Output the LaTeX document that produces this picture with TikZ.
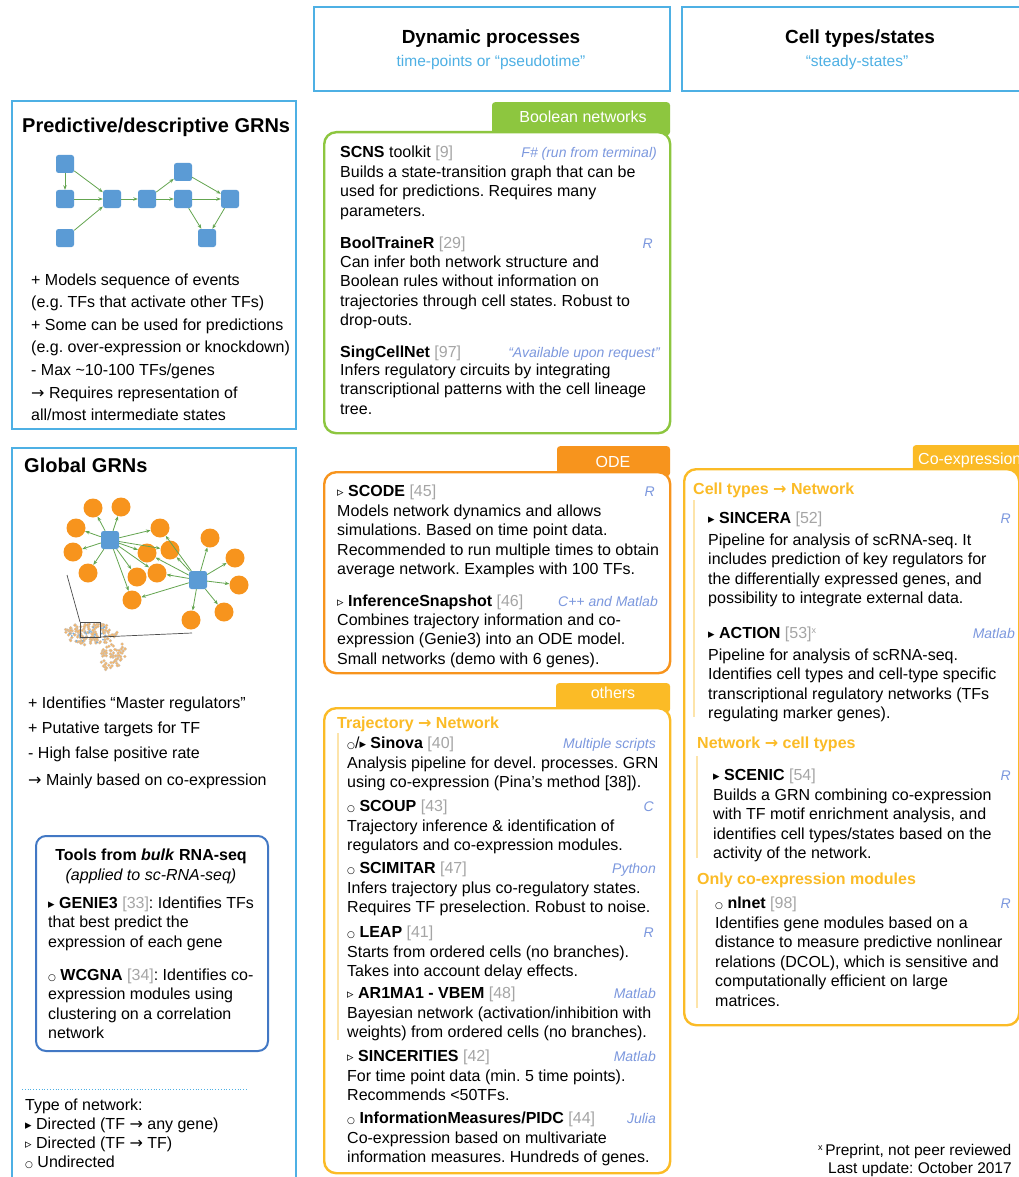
\documentclass[tikz,border=0pt]{standalone}
\usepackage{fontspec}
\setmainfont{Liberation Sans}
\newfontfamily\symf{DejaVu Sans}
\usetikzlibrary{arrows.meta}
\definecolor{skyblue}{RGB}{78,176,228}
\definecolor{toolblue}{RGB}{66,120,196}
\definecolor{boolgreen}{RGB}{141,198,63}
\definecolor{odeorange}{RGB}{247,148,29}
\definecolor{otheryellow}{RGB}{251,187,38}
\definecolor{lineyellow}{RGB}{253,228,170}
\definecolor{langblue}{RGB}{124,152,222}
\definecolor{refgray}{RGB}{165,165,165}
\definecolor{nodeblue}{RGB}{91,155,213}
\definecolor{nodeorange}{RGB}{247,148,29}
\definecolor{edgegreen}{RGB}{100,165,80}
\newcommand\bodyf{\fontsize{16}{19.5}\selectfont}
\newcommand\listf{\fontsize{16}{22.5}\selectfont}
\newcommand\rf[1]{\textcolor{refgray}{[#1]}}
\newcommand\mkfull{{\symf\fontsize{13}{13}\selectfont ▸}}
\newcommand\mkopen{{\symf\fontsize{13}{13}\selectfont ▹}}
\newcommand\mkcirc{{\symf\fontsize{9}{9}\selectfont ○}}
\newcommand\mkarr{{\symf\fontsize{16}{16}\selectfont →}}
\newcommand\mkx{\raisebox{5pt}{\fontsize{9}{9}\selectfont x}}
\frenchspacing
\begin{document}
\begin{tikzpicture}[x=1pt,y=-1pt,
  frame/.style={draw=skyblue, line width=2pt, anchor=north west, inner sep=0pt},
  hdr/.style={anchor=base west, inner sep=0pt, font=\bodyf},
  lang/.style={anchor=base east, inner sep=0pt, font=\fontsize{14}{16}\selectfont\itshape, text=langblue},
  body/.style={anchor=north west, inner sep=0pt, align=left, font=\bodyf},
  lst/.style={anchor=north west, inner sep=0pt, align=left, font=\listf},
  sect/.style={anchor=base west, inner sep=0pt, font=\bodyf\bfseries, text=otheryellow},
  tab/.style={anchor=north east, inner sep=0pt, rounded corners=3pt},
  tablabel/.style={anchor=base, inner sep=0pt, text=white, font=\bodyf},
  card/.style={anchor=north west, inner sep=0pt, fill=white, line width=2.4pt, rounded corners=12pt},
  sq/.style={fill=nodeblue, rounded corners=2.5pt, minimum size=18pt, inner sep=0pt},
  dot/.style={circle, fill=nodeorange, minimum size=19pt, inner sep=0pt},
  edge/.style={draw=edgegreen, line width=0.8pt, -{Stealth[length=4.5pt,width=3.5pt]}},
  vbar/.style={draw=lineyellow, line width=1.6pt}]
\useasboundingbox (0,0) rectangle (1019,1177);
\fill[white] (0,0) rectangle (1019,1177);
\clip (0,0) rectangle (1019,1177);

% ---------- column headers ----------
\node[frame, minimum width=356pt, minimum height=84pt] (dynbox) at (313,6) {};
\node[anchor=base, inner sep=0pt, font=\fontsize{19}{22}\selectfont\bfseries] (dyntitle) at (491,44) {Dynamic processes};
\node[anchor=base, inner sep=0pt, font=\fontsize{15.5}{18}\selectfont, text=skyblue] (dynsub) at (491,67) {time-points or ``pseudotime''};
\node[frame, minimum width=360pt, minimum height=84pt] (cellbox) at (681,6) {};
\node[anchor=base, inner sep=0pt, font=\fontsize{19}{22}\selectfont\bfseries] (celltitle) at (860,44) {Cell types/states};
\node[anchor=base, inner sep=0pt, font=\fontsize{15.5}{18}\selectfont, text=skyblue] (cellsub) at (857,67) {``steady-states''};

% ---------- predictive / descriptive GRNs ----------
\node[frame, minimum width=284pt, minimum height=328pt] (predbox) at (11,100) {};
\node[anchor=base west, inner sep=0pt, font=\fontsize{20}{24}\selectfont\bfseries] (predtitle) at (22,133) {Predictive/descriptive GRNs};
\node[sq] (p1) at (65,164) {};
\node[sq] (p2) at (65,199) {};
\node[sq] (p3) at (65,238) {};
\node[sq] (p4) at (112,199) {};
\node[sq] (p5) at (147,199) {};
\node[sq] (p6) at (183,172) {};
\node[sq] (p7) at (183,199) {};
\node[sq] (p8) at (230,199) {};
\node[sq] (p9) at (207,238) {};
\draw[edge] (p1) -- (p2);
\draw[edge] (p1) -- (p4);
\draw[edge] (p2) -- (p4);
\draw[edge] (p3) -- (p4);
\draw[edge] (p4) -- (p5);
\draw[edge] (p5) -- (p6);
\draw[edge] (p5) -- (p7);
\draw[edge] (p6) -- (p8);
\draw[edge] (p7) -- (p8);
\draw[edge] (p7) -- (p9);
\draw[edge] (p8) -- (p9);
\node[lst] (pred1) at (31,269.25) {\strut + Models sequence of events\\(e.g. TFs that activate other TFs)};
\node[lst] (pred2) at (31,314.25) {\strut + Some can be used for predictions\\(e.g. over-expression or knockdown)};
\node[lst] (pred3) at (31,359.25) {\strut - Max \textasciitilde10-100 TFs/genes};
\node[lst] (pred4) at (31,382.25) {\strut \mkarr\ Requires representation of\\all/most intermediate states};

% ---------- global GRNs ----------
\node[frame, minimum width=284pt, minimum height=760pt] (globbox) at (11,447) {};
\node[anchor=base west, inner sep=0pt, font=\fontsize{20}{24}\selectfont\bfseries] (globtitle) at (24,472) {Global GRNs};
% small overview network
\begin{scope}
\pgfmathsetseed{11}
\foreach \i in {1,...,140}{
  \pgfmathsetmacro\ang{360*rnd}
  \pgfmathsetmacro\rr{sqrt(rnd)}
  \pgfmathsetmacro\px{90+28*\rr*cos(\ang)}
  \pgfmathsetmacro\py{634+11*\rr*sin(\ang)}
  \filldraw[fill=nodeorange!70, draw=gray!45, line width=0.2pt] (\px,\py) circle[radius=1.5pt];
}
\foreach \i in {1,...,70}{
  \pgfmathsetmacro\ang{360*rnd}
  \pgfmathsetmacro\rr{sqrt(rnd)}
  \pgfmathsetmacro\px{112+13*\rr*cos(\ang)-4*\rr*sin(\ang)}
  \pgfmathsetmacro\py{656+14*\rr*sin(\ang)}
  \filldraw[fill=nodeorange!70, draw=gray!45, line width=0.2pt] (\px,\py) circle[radius=1.5pt];
}
\foreach \i in {1,...,25}{
  \pgfmathsetmacro\ang{360*rnd}
  \pgfmathsetmacro\rr{sqrt(rnd)}
  \pgfmathsetmacro\px{90+24*\rr*cos(\ang)}
  \pgfmathsetmacro\py{634+9*\rr*sin(\ang)}
  \fill[nodeblue!80] (\px,\py) circle[radius=1pt];
}
\end{scope}
\draw[black!70, line width=0.7pt] (80,622) rectangle (100,637);
\draw[black!70, line width=0.7pt] (67,575) -- (80,622);
\draw[black!70, line width=0.7pt] (100,637) -- (192,633);
% enlarged part of the network
\node[sq] (g1) at (110,540) {};
\node[sq] (g2) at (198,580) {};
\node[dot] (c1) at (93,508) {};
\node[dot] (c2) at (121,507) {};
\node[dot] (c3) at (76,528) {};
\node[dot] (c4) at (160,528) {};
\node[dot] (c5) at (73,552) {};
\node[dot] (c6) at (147,553) {};
\node[dot] (c7) at (170,550) {};
\node[dot] (c8) at (88,573) {};
\node[dot] (c9) at (137,577) {};
\node[dot] (c10) at (157,573) {};
\node[dot] (c11) at (132,600) {};
\node[dot] (c12) at (210,538) {};
\node[dot] (c13) at (235,558) {};
\node[dot] (c14) at (239,585) {};
\node[dot] (c15) at (224,612) {};
\node[dot] (c16) at (191,620) {};
\foreach \t in {c1,c2,c3,c4,c5,c6,c7,c8,c9,c10,c11}{\draw[edge] (g1) -- (\t);}
\foreach \t in {c4,c6,c7,c10,c11,c12,c13,c14,c15,c16}{\draw[edge] (g2) -- (\t);}
\node[hdr] (glob1) at (28,708) {+ Identifies “Master regulators”};
\node[hdr] (glob2) at (28,733) {+ Putative targets for TF};
\node[hdr] (glob3) at (28,758) {- High false positive rate};
\node[hdr] (glob4) at (28,785) {\mkarr\ Mainly based on co-expression};

% tools from bulk RNA-seq
\node[anchor=north west, inner sep=0pt, draw=toolblue, line width=2pt, rounded corners=10pt, minimum width=232pt, minimum height=215pt] (toolbox) at (35,835) {};
\node[anchor=base, inner sep=0pt, font=\bodyf\bfseries] (tooltitle) at (151,860) {Tools from \textit{bulk} RNA-seq};
\node[anchor=base, inner sep=0pt, font=\bodyf\itshape] (toolsub) at (151,880) {(applied to sc-RNA-seq)};
\node[body] (genie) at (48,894.35) {\strut\mkfull\ \textbf{GENIE3} \rf{33}: Identifies TFs\\that best predict the\\expression of each gene};
\node[body] (wgcna) at (48,966.35) {\strut\mkcirc\ \textbf{WCGNA} \rf{34}: Identifies co-\\expression modules using\\clustering on a correlation\\network};

% legend
\draw[skyblue, dotted, line width=0.8pt] (22,1089) -- (247,1089);
\node[anchor=north west, inner sep=0pt, align=left, font=\fontsize{16}{19}\selectfont] (legend) at (25,1096.7) {\strut Type of network:\\\mkfull\ Directed (TF \mkarr\ any gene)\\\mkopen\ Directed (TF \mkarr\ TF)\\\mkcirc\ Undirected};

% ---------- Boolean networks ----------
\node[tab, fill=boolgreen, minimum width=178pt, minimum height=33pt] (booltab) at (670.2,102) {};
\node[tablabel] (booltablabel) at (583,123) {Boolean networks};
\node[card, draw=boolgreen, minimum width=346pt, minimum height=301pt] (boolbox) at (323,131) {};
\node[hdr] (scns) at (340,158) {\textbf{SCNS} toolkit \rf{9}};
\node[lang] (scnslang) at (657,158) {F\# (run from terminal)};
\node[body] (scnsbody) at (340,163.35) {\strut Builds a state-transition graph that can be\\used for predictions. Requires many\\parameters.};
\node[hdr] (bool) at (340,248) {\textbf{BoolTraineR} \rf{29}};
\node[lang] (boollang) at (653,248) {R};
\node[body] (boolbody) at (340,253.35) {\strut Can infer both network structure and\\Boolean rules without information on\\trajectories through cell states. Robust to\\drop-outs.};
\node[hdr] (scn) at (340,357) {\textbf{SingCellNet} \rf{97}};
\node[lang] (scnlang) at (660,357) {“Available upon request”};
\node[body] (scnbody) at (340,361.35) {\strut Infers regulatory circuits by integrating\\transcriptional patterns with the cell lineage\\tree.};

% ---------- ODE ----------
\node[tab, fill=odeorange, minimum width=113pt, minimum height=30pt] (odetab) at (670.2,446) {};
\node[tablabel] (odetablabel) at (613,467) {ODE};
\node[card, draw=odeorange, minimum width=346pt, minimum height=201pt] (odebox) at (323,471) {};
\node[hdr] (scode) at (337,496) {\mkopen\ \textbf{SCODE} \rf{45}};
\node[lang] (scodelang) at (655,496) {R};
\node[body] (scodebody) at (337,502.35) {\strut Models network dynamics and allows\\simulations. Based on time point data.\\Recommended to run multiple times to obtain\\average network. Examples with 100 TFs.};
\node[hdr] (snap) at (337,606) {\mkopen\ \textbf{InferenceSnapshot} \rf{46}};
\node[lang] (snaplang) at (658,606) {C++ and Matlab};
\node[body] (snapbody) at (337,611.35) {\strut Combines trajectory information and co-\\expression (Genie3) into an ODE model.\\Small networks (demo with 6 genes).};

% ---------- others ----------
\node[tab, fill=otheryellow, minimum width=114pt, minimum height=29pt] (othtab) at (670.2,683) {};
\node[tablabel] (othtablabel) at (613,698) {others};
\node[card, draw=otheryellow, minimum width=346pt, minimum height=465pt] (othbox) at (323,707) {};
\node[sect] (trajsect) at (337,728) {Trajectory \mkarr\ Network};
\coordinate (trajtop) at (338,733);
\coordinate (trajbot) at (338,1040);
\draw[vbar] (trajtop) -- (trajbot);
\node[hdr] (sinova) at (347,748) {\mkcirc/\mkfull\ \textbf{Sinova} \rf{40}};
\node[lang] (sinovalang) at (656,748) {Multiple scripts};
\node[body] (sinovabody) at (347,754.35) {\strut Analysis pipeline for devel. processes. GRN\\using co-expression (Pina’s method [38]).};
\node[hdr] (scoup) at (347,811) {\mkcirc\ \textbf{SCOUP} \rf{43}};
\node[lang] (scouplang) at (654,811) {C};
\node[body] (scoupbody) at (347,817.35) {\strut Trajectory inference \& identification of\\regulators and co-expression modules.};
\node[hdr] (scimitar) at (347,873) {\mkcirc\ \textbf{SCIMITAR} \rf{47}};
\node[lang] (scimitarlang) at (656,873) {Python};
\node[body] (scimitarbody) at (347,879.35) {\strut Infers trajectory plus co-regulatory states.\\Requires TF preselection. Robust to noise.};
\node[hdr] (leap) at (347,937) {\mkcirc\ \textbf{LEAP} \rf{41}};
\node[lang] (leaplang) at (654,937) {R};
\node[body] (leapbody) at (347,943.35) {\strut Starts from ordered cells (no branches).\\Takes into account delay effects.};
\node[hdr] (ar1) at (347,998) {\mkopen\ \textbf{AR1MA1 - VBEM} \rf{48}};
\node[lang] (ar1lang) at (656,998) {Matlab};
\node[body] (ar1body) at (347,1004.35) {\strut Bayesian network (activation/inhibition with\\weights) from ordered cells (no branches).};
\node[hdr] (sinc) at (347,1061) {\mkopen\ \textbf{SINCERITIES} \rf{42}};
\node[lang] (sinclang) at (656,1061) {Matlab};
\node[body] (sincbody) at (347,1067.35) {\strut For time point data (min. 5 time points).\\Recommends <50TFs.};
\node[hdr] (pidc) at (347,1123) {\mkcirc\ \textbf{InformationMeasures/PIDC} \rf{44}};
\node[lang] (pidclang) at (656,1123) {Julia};
\node[body] (pidcbody) at (347,1129.35) {\strut Co-expression based on multivariate\\information measures. Hundreds of genes.};

% ---------- co-expression ----------
\node[tab, fill=otheryellow, minimum width=110pt, minimum height=30pt] (coextab) at (1023,445) {};
\node[anchor=base west, inner sep=0pt, text=white, font=\bodyf] (coextablabel) at (918,464) {Co-expression};
\node[card, draw=otheryellow, minimum width=335pt, minimum height=556pt] (coexbox) at (683,468) {};
\node[sect] (ctsect) at (693,494) {Cell types \mkarr\ Network};
\coordinate (cttop) at (694,500);
\coordinate (ctbot) at (694,717);
\draw[vbar] (cttop) -- (ctbot);
\node[hdr] (sincera) at (708,523) {\mkfull\ \textbf{SINCERA} \rf{52}};
\node[lang] (sinceralang) at (1011,523) {R};
\node[body] (sincerabody) at (708,531.35) {\strut Pipeline for analysis of scRNA-seq. It\\includes prediction of key regulators for\\the differentially expressed genes, and\\possibility to integrate external data.};
\node[hdr] (action) at (708,638) {\mkfull\ \textbf{ACTION} \rf{53}\textcolor{refgray}{\mkx}};
\node[lang] (actionlang) at (1015,638) {Matlab};
\node[body] (actionbody) at (708,646.35) {\strut Pipeline for analysis of scRNA-seq.\\Identifies cell types and cell-type specific\\transcriptional regulatory networks (TFs\\regulating marker genes).};
\node[sect] (ntsect) at (697,748) {Network \mkarr\ cell types};
\coordinate (nttop) at (697,756);
\coordinate (ntbot) at (697,858);
\draw[vbar] (nttop) -- (ntbot);
\node[hdr] (scenic) at (713,780) {\mkfull\ \textbf{SCENIC} \rf{54}};
\node[lang] (sceniclang) at (1011,780) {R};
\node[body] (scenicbody) at (713,786.35) {\strut Builds a GRN combining co-expression\\with TF motif enrichment analysis, and\\identifies cell types/states based on the\\activity of the network.};
\node[sect] (cosect) at (697,884) {Only co-expression modules};
\coordinate (cotop) at (697,890);
\coordinate (cobot) at (697,1008);
\draw[vbar] (cotop) -- (cobot);
\node[hdr] (nlnet) at (715,908) {\mkcirc\ \textbf{nlnet} \rf{98}};
\node[lang] (nlnetlang) at (1011,908) {R};
\node[body] (nlnetbody) at (715,914.35) {\strut Identifies gene modules based on a\\distance to measure predictive nonlinear\\relations (DCOL), which is sensitive and\\computationally efficient on large\\matrices.};

% ---------- footnote ----------
\node[anchor=base west, inner sep=0pt, font=\fontsize{15.5}{18}\selectfont] (foot1) at (818,1155) {\mkx\,Preprint, not peer reviewed};
\node[anchor=base west, inner sep=0pt, font=\fontsize{15.5}{18}\selectfont] (foot2) at (828,1173) {Last update: October 2017};
\end{tikzpicture}
\end{document}
